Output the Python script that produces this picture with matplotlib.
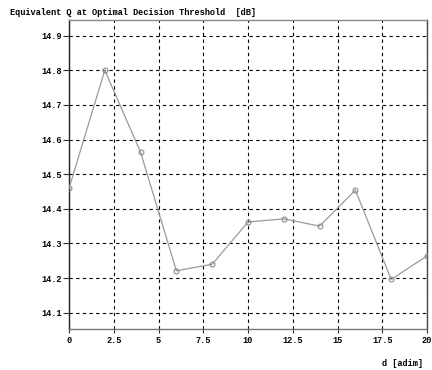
import numpy as np
import matplotlib
matplotlib.use("Agg")
from matplotlib import pyplot as plt

# Equivalent Q against d, one point every 2 units.
d_values = [0, 2, 4, 6, 8, 10, 12, 14, 16, 18, 20]
q_db = [14.459, 14.80, 14.563, 14.221, 14.240, 14.362,
        14.371, 14.350, 14.454, 14.196, 14.264]

x_ticks = [0, 2.5, 5, 7.5, 10, 12.5, 15, 17.5, 20]
x_tick_labels = ["0", "2.5", "5", "7.5", "10", "12.5", "15", "17.5", "20"]
y_ticks = [14.1, 14.2, 14.3, 14.4, 14.5, 14.6, 14.7, 14.8, 14.9]

FONT = {"family": "Liberation Mono", "size": 6.2, "weight": "bold"}

fig = plt.figure(figsize=(4.32, 3.70), dpi=100)
ax = fig.add_axes([69 / 432, 1 - 329 / 370, (427 - 69) / 432, (329 - 20) / 370])

ax.plot(d_values, q_db, color="#9a9a9a", linewidth=0.9,
        marker="o", markersize=3.5, markerfacecolor="none",
        markeredgecolor="#8a8a8a", markeredgewidth=0.8, zorder=3)

ax.set_xlim(0, 20)
ax.set_ylim(14.053, 14.945)
ax.set_xticks(x_ticks)
ax.set_xticklabels(x_tick_labels, fontdict=FONT)
ax.set_yticks(y_ticks)
ax.set_yticklabels([f"{v:.1f}" for v in y_ticks], fontdict=FONT)
ax.tick_params(axis="x", length=3, width=0.8, color="#333333", pad=2)
ax.tick_params(axis="y", length=4, width=0.8, color="#333333", pad=1)

ax.grid(True, color="black", linestyle=(0, (3, 3)), linewidth=0.8)
ax.set_axisbelow(True)

ax.spines["left"].set_color("#222222")
ax.spines["bottom"].set_color("#777777")
ax.spines["top"].set_color("#888888")
ax.spines["right"].set_color("#444444")
for s in ax.spines.values():
    s.set_linewidth(1.0)

fig.text(10 / 432, 1 - 12.5 / 370, "Equivalent Q at Optimal Decision Threshold  [dB]",
         ha="left", va="center", fontdict=FONT)
fig.text(423 / 432, 1 - 363 / 370, "d [adim]", ha="right", va="center",
         fontdict=FONT)

fig.savefig("out.png", dpi=100)
